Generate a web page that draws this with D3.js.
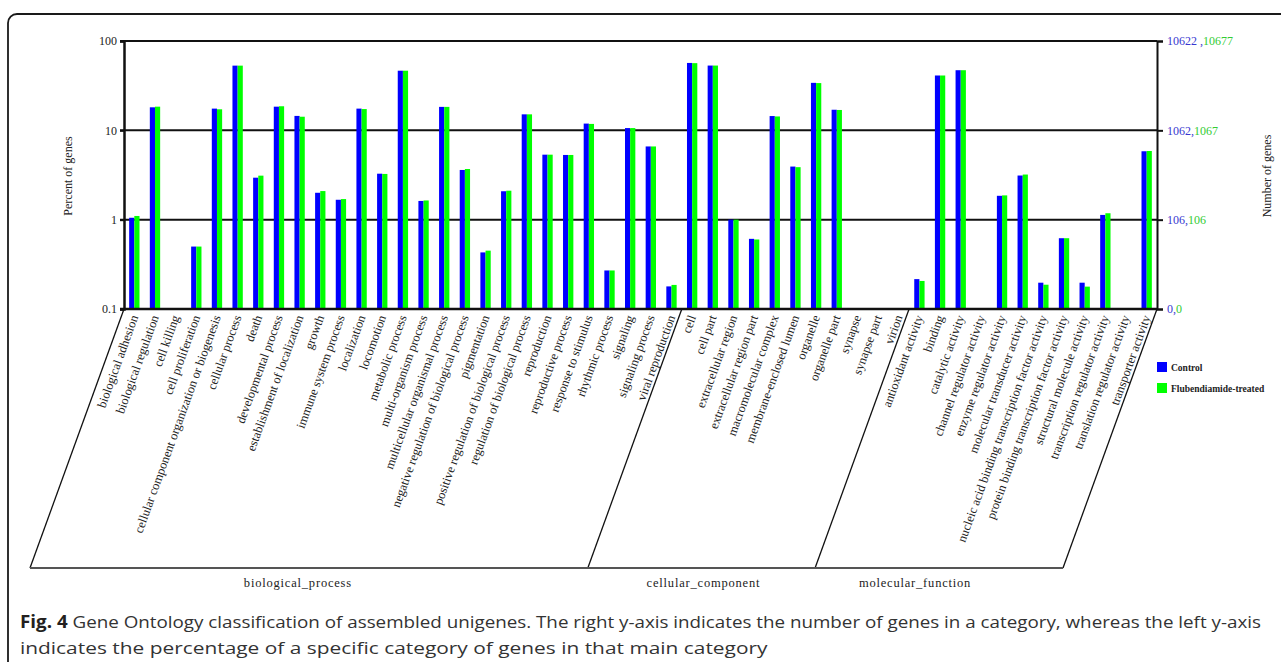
<!DOCTYPE html>
<html>
<head>
<meta charset="utf-8">
<script src="https://cdn.jsdelivr.net/npm/d3@7"></script>
<style>
  body { margin: 0; background: #fff; }
  svg { display: block; }
  text { font-family: "Liberation Serif", "Times New Roman", serif; }
</style>
</head>
<body>
<script>
// GO terms, in plot order
var categories = [
  "biological adhesion", "biological regulation", "cell killing", "cell proliferation",
  "cellular component organization or biogenesis", "cellular process", "death",
  "developmental process", "establishment of localization", "growth",
  "immune system process", "localization", "locomotion", "metabolic process",
  "multi-organism process", "multicellular organismal process",
  "negative regulation of biological process", "pigmentation",
  "positive regulation of biological process", "regulation of biological process",
  "reproduction", "reproductive process", "response to stimulus", "rhythmic process",
  "signaling", "signaling process", "viral reproduction",
  "cell", "cell part", "extracellular region", "extracellular region part",
  "macromolecular complex", "membrane-enclosed lumen", "organelle", "organelle part",
  "synapse", "synapse part", "virion",
  "antioxidant activity", "binding", "catalytic activity", "channel regulator activity",
  "enzyme regulator activity", "molecular transducer activity",
  "nucleic acid binding transcription factor activity",
  "protein binding transcription factor activity", "structural molecule activity",
  "transcription regulator activity", "translation regulator activity",
  "transporter activity"
];
var groups = ["biological_process", "cellular_component", "molecular_function"];
var groupSizes = [27, 11, 12];

// percent of genes (0 = no bar)
var control = [
  1.05, 18.1, 0, 0.50, 17.5, 53.0, 2.95, 18.4, 14.5, 2.0,
  1.67, 17.5, 3.27, 46.5, 1.62, 18.3, 3.60, 0.43, 2.08, 15.1,
  5.34, 5.30, 11.9, 0.27, 10.6, 6.6, 0.179,
  56.8, 53.1, 1.0, 0.61, 14.45, 3.93, 34.0, 17.0, 0, 0, 0,
  0.216, 41.1, 47.1, 0, 1.85, 3.12, 0.197, 0.62, 0.197, 1.13, 0, 5.83
];
var treated = [
  1.10, 18.4, 0, 0.50, 17.2, 53.0, 3.11, 18.6, 14.2, 2.09,
  1.70, 17.3, 3.25, 46.5, 1.64, 18.3, 3.69, 0.45, 2.11, 15.1,
  5.34, 5.30, 11.8, 0.27, 10.6, 6.6, 0.186,
  56.5, 53.1, 1.0, 0.60, 14.3, 3.87, 33.8, 16.9, 0, 0, 0,
  0.206, 41.1, 47.1, 0, 1.87, 3.20, 0.187, 0.62, 0.178, 1.18, 0, 5.87
];

var leftTicks = [0.1, 1, 10, 100];
var rightControl = ["0", "106", "1062", "10622 "];
var rightTreated = ["0", "106", "1067", "10677"];
var seriesNames = ["Control", "Flubendiamide-treated"];
var seriesColors = ["#0000ff", "#00ff00"];

var W = 1281, H = 662;
var plotL = 124, plotR = 1157, plotT = 41, plotB = 309;
var bracketB = 568, bracketShift = -94;

var svg = d3.select("body").append("svg").attr("width", W).attr("height", H);

// figure frame
svg.append("rect")
  .attr("x", 8).attr("y", 14).attr("width", 1300).attr("height", 700)
  .attr("rx", 9).attr("fill", "none").attr("stroke", "#1a1a1a").attr("stroke-width", 1.8);

var x = d3.scaleBand().domain(categories).range([plotL, plotR]).padding(0);
var y = d3.scaleLog().domain([0.1, 100]).range([plotB, plotT]);
var bw = x.bandwidth() * 0.25;

// gridlines
svg.append("g").selectAll("line").data(leftTicks.slice(1)).enter().append("line")
  .attr("x1", plotL - 4).attr("x2", plotR)
  .attr("y1", d => y(d)).attr("y2", d => y(d))
  .attr("stroke", "#111").attr("stroke-width", 2);

// bars
var series = [control, treated];
series.forEach(function (vals, s) {
  svg.append("g").selectAll("rect")
    .data(categories.map((c, i) => ({ c: c, v: vals[i] })).filter(d => d.v > 0))
    .enter().append("rect")
    .attr("x", d => x(d.c) + x.bandwidth() / 2 - bw + s * bw)
    .attr("y", d => y(d.v))
    .attr("width", bw)
    .attr("height", d => plotB - y(d.v))
    .attr("fill", seriesColors[s]);
});

// left axis
var yAxisL = d3.axisLeft(y).tickValues(leftTicks).tickFormat(d => d).tickSize(4).tickPadding(3);
var gL = svg.append("g").attr("transform", "translate(" + plotL + ",0)").call(yAxisL);
gL.select(".domain").attr("stroke", "#111").attr("stroke-width", 2.5);
gL.selectAll(".tick line").attr("stroke", "#111").attr("stroke-width", 2);
gL.selectAll(".tick text").attr("font-family", "Liberation Serif").attr("font-size", 12).attr("fill", "#222");

// bottom line
svg.append("line").attr("x1", plotL - 4).attr("x2", plotR)
  .attr("y1", plotB).attr("y2", plotB).attr("stroke", "#111").attr("stroke-width", 2.5);

// right axis
var yAxisR = d3.axisRight(y).tickValues(leftTicks).tickFormat("").tickSize(6);
var gR = svg.append("g").attr("transform", "translate(" + plotR + ",0)").call(yAxisR);
gR.select(".domain").attr("stroke", "#111").attr("stroke-width", 2);
gR.selectAll(".tick line").attr("stroke", "#111").attr("stroke-width", 2);
var rLab = svg.append("g").selectAll("text").data(leftTicks).enter().append("text")
  .attr("x", plotR + 10).attr("y", d => y(d)).attr("dy", "0.35em")
  .attr("font-size", 12);
rLab.append("tspan").attr("fill", "#3838d0").text((d, i) => rightControl[i] + ",");
rLab.append("tspan").attr("fill", "#33cc33").text((d, i) => rightTreated[i]);

// axis titles
svg.append("text").attr("transform", "translate(72,176) rotate(-90)")
  .attr("text-anchor", "middle").attr("font-size", 12).attr("fill", "#222").text("Percent of genes");
svg.append("text").attr("transform", "translate(1271,176) rotate(-90)")
  .attr("text-anchor", "middle").attr("font-size", 12).attr("fill", "#222").text("Number of genes");

// category labels
svg.append("g").selectAll("text").data(categories).enter().append("text")
  .attr("transform", d => "translate(" + (x(d) + x.bandwidth() / 2 + 4) + "," + (plotB + 8) + ") rotate(-70)")
  .attr("text-anchor", "end")
  .attr("font-size", 12.5).attr("fill", "#222")
  .text(d => d);

// group brackets
var starts = [0];
groupSizes.forEach((n, i) => starts.push(starts[i] + n));
var edgeX = starts.map(k => k < categories.length ? x(categories[k]) : plotR);
var br = svg.append("g").attr("fill", "none").attr("stroke", "#111").attr("stroke-width", 1.3);
edgeX.forEach(function (ex) {
  br.append("line").attr("x1", ex).attr("y1", plotB).attr("x2", ex + bracketShift).attr("y2", bracketB);
});
br.append("line").attr("x1", edgeX[0] + bracketShift).attr("x2", edgeX[edgeX.length - 1] + bracketShift)
  .attr("y1", bracketB).attr("y2", bracketB).attr("stroke", "#555").attr("stroke-width", 2);

// group names sit a little left of each bracket's foot in the original
var nudge = [-11, 2, -24];
svg.append("g").selectAll("text").data(groups).enter().append("text")
  .attr("x", (d, i) => (edgeX[i] + edgeX[i + 1]) / 2 + bracketShift + nudge[i])
  .attr("y", bracketB + 19)
  .attr("text-anchor", "middle").attr("font-size", 12.5).attr("letter-spacing", 0.8)
  .attr("fill", "#222")
  .text(d => d);

// legend
var lg = svg.append("g").selectAll("g").data(seriesNames).enter().append("g")
  .attr("transform", (d, i) => "translate(1157," + (362 + i * 21) + ")");
lg.append("rect").attr("width", 10).attr("height", 10).attr("fill", (d, i) => seriesColors[i]);
lg.append("text").attr("x", 14).attr("y", 8.5).attr("font-size", 9.5).attr("font-weight", "bold")
  .attr("fill", "#222").text(d => d);

// caption, squeezed horizontally to the width it has in the figure
function caption(yPos, width, parts) {
  var t = svg.append("text")
    .style("font-family", "'Open Sans', sans-serif").attr("font-size", 17).attr("fill", "#333");
  parts.forEach(function (p) {
    t.append("tspan").attr("font-weight", p.bold ? "bold" : null)
      .attr("fill", p.bold ? "#231f20" : null).text(p.text);
  });
  var k = width / t.node().getComputedTextLength();
  t.attr("transform", "translate(20," + yPos + ") scale(" + k + ",1)");
}
caption(628, 1242, [
  { text: "Fig. 4", bold: true },
  { text: " Gene Ontology classification of assembled unigenes. The right y-axis indicates the number of genes in a category, whereas the left y-axis" }
]);
caption(654, 748, [
  { text: "indicates the percentage of a specific category of genes in that main category" }
]);
</script>
</body>
</html>
